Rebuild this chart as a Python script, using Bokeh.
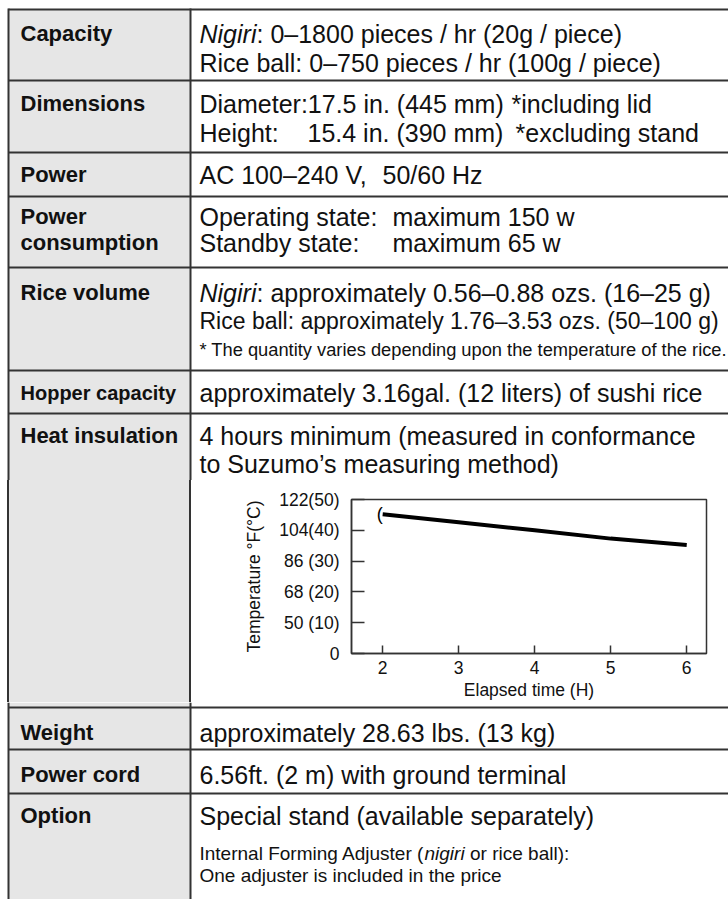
from bokeh.plotting import figure
from bokeh.models import Range1d, FixedTicker, Div
from bokeh.layouts import column, row
from bokeh.embed import file_html
from bokeh.resources import INLINE
from bokeh.core.properties import value

FONT = "Liberation Sans"
GRAY = "#e6e6e6"
LINE = "#333333"
INK = "#111111"

# ---------------- chart data (heat insulation curve) ----------------
hours = [2, 3, 4, 5, 6]
temp_c = [45.2, 42.6, 40.0, 37.3, 35.2]
x_ticks = [2, 3, 4, 5, 6]
y_ticks = [0, 10, 20, 30, 40, 50]
y_tick_labels = ["0", "50 (10)", "68 (20)", "86 (30)", "104(40)", "122(50)"]
x_title = "Elapsed time (H)"
y_title = "Temperature °F(°C)"

# ---------------- table text ----------------
row_labels_top = ["Capacity", "Dimensions", "Power", "Power", "consumption",
                  "Rice volume", "Hopper capacity", "Heat insulation"]
row_labels_bottom = ["Weight", "Power cord", "Option"]

capacity = ["Nigiri", ": 0–1800 pieces / hr (20g / piece)",
            "Rice ball: 0–750 pieces / hr (100g / piece)"]
dimensions = ["Diameter:17.5 in. (445 mm)", "*including lid",
              "Height:", "15.4 in. (390 mm)", "*excluding stand"]
power = ["AC 100–240 V,", "50/60 Hz"]
consumption = ["Operating state:", "maximum 150 w", "Standby state:", "maximum 65 w"]
rice_volume = ["Nigiri", ": approximately 0.56–0.88 ozs. (16–25 g)",
               "Rice ball: approximately 1.76–3.53 ozs. (50–100 g)",
               "* The quantity varies depending upon the temperature of the rice."]
hopper = ["approximately 3.16gal. (12 liters) of sushi rice"]
heat = ["4 hours minimum (measured in conformance", "to Suzumo’s measuring method)"]
weight = ["approximately 28.63 lbs. (13 kg)"]
cord = ["6.56ft. (2 m) with ground terminal"]
option = ["Special stand (available separately)", "Internal Forming Adjuster (",
          "nigiri", "or rice ball):", "One adjuster is included in the price"]

# page layout (pixel positions on the page)
W = 728
COL_X = 190
TOP_Y, BAND_Y0, BAND_Y1, BOT_Y = 0, 480, 702, 899
rules_top = [9, 80, 152, 196, 267, 370, 413]
rules_bottom = [707, 749, 793]
LX, CX = 20, 199
B = "25px"


def table_fig(y0, y1):
    f = figure(width=W, height=y1 - y0,
               x_range=Range1d(0, W), y_range=Range1d(y1, y0),
               x_axis_location=None, y_axis_location=None,
               output_backend="svg", toolbar_location=None, min_border=0)
    f.grid.visible = False
    f.outline_line_color = None
    f.background_fill_color = "white"
    f.border_fill_color = "white"
    f.quad(left=[8], right=[COL_X], top=[max(y0, 9)], bottom=[y1],
           fill_color=GRAY, line_color=None)
    f.segment(x0=[8, COL_X], y0=[max(y0, 8), max(y0, 8)], x1=[8, COL_X], y1=[y1, y1],
              line_color=LINE, line_width=2)
    return f


def strip(w, color):
    return Div(text="", width=w, height=BAND_Y1 - BAND_Y0, margin=0,
               styles={"background-color": color, "padding": "0px", "margin": "0px"})


def txt(f, x, y, s, size=B, style="normal"):
    f.text(x=[x], y=[y], text=[s], text_font=value(FONT), text_font_size=size,
           text_font_style=style, text_baseline="middle", text_align="left",
           text_color=INK)


# ---------------- top part of the table ----------------
top = table_fig(TOP_Y, BAND_Y0)
top.segment(x0=[8] * len(rules_top), y0=rules_top,
            x1=[W] * len(rules_top), y1=rules_top,
            line_color=LINE, line_width=2)
label_y = [33, 103, 174, 216, 242, 292, 392, 435]
for s, y in zip(row_labels_top, label_y):
    txt(top, LX, y, s, "20px" if s == "Hopper capacity" else "22px", "bold")

txt(top, CX, 33, capacity[0], B, "italic")
txt(top, CX + 57, 33, capacity[1])
txt(top, CX, 62, capacity[2])
txt(top, CX, 103, dimensions[0])
txt(top, 511, 103, dimensions[1])
txt(top, CX, 132, dimensions[2])
txt(top, 307, 132, dimensions[3])
txt(top, 515, 132, dimensions[4])
txt(top, CX, 174, power[0])
txt(top, 382, 174, power[1])
txt(top, CX, 216, consumption[0])
txt(top, 392, 216, consumption[1])
txt(top, CX, 242, consumption[2])
txt(top, 392, 242, consumption[3])
txt(top, CX, 292, rice_volume[0], B, "italic")
txt(top, CX + 57, 292, rice_volume[1])
txt(top, CX, 320, rice_volume[2], "23px")
txt(top, CX, 349, rice_volume[3], "18.3px")
txt(top, CX, 392, hopper[0])
txt(top, CX, 435, heat[0])
txt(top, CX, 463, heat[1])

# ---------------- band with the chart ----------------
CH_X0 = 191
ch = figure(width=W - CH_X0, height=BAND_Y1 - BAND_Y0,
            x_range=Range1d(1.59, 6.26), y_range=Range1d(0, 50),
            output_backend="svg", toolbar_location=None,
            min_border_left=351 - CH_X0, min_border_right=W - 706,
            min_border_top=499 - BAND_Y0, min_border_bottom=BAND_Y1 - 653)
ch.grid.visible = False
ch.background_fill_color = "white"
ch.border_fill_color = "white"
ch.outline_line_color = LINE
ch.outline_line_width = 1.5
for ax in (ch.xaxis[0], ch.yaxis[0]):
    ax.axis_line_color = LINE
    ax.axis_line_width = 1.5
    ax.major_tick_line_color = LINE
    ax.major_tick_line_width = 1.5
    ax.major_tick_out = 0
    ax.minor_tick_line_color = None
    ax.axis_label_text_font = FONT
    ax.axis_label_text_font_style = "normal"
    ax.axis_label_text_font_size = "17.5px"
    ax.axis_label_text_color = INK
    ax.major_label_text_font = FONT
    ax.major_label_text_font_size = "17.5px"
    ax.major_label_text_color = INK
ch.xaxis.ticker = FixedTicker(ticks=x_ticks)
ch.xaxis.major_tick_in = 8
ch.xaxis.major_label_standoff = 7
ch.xaxis.axis_label = x_title
ch.xaxis.axis_label_standoff = 3
ch.yaxis.ticker = FixedTicker(ticks=y_ticks)
ch.yaxis.major_label_overrides = {t: s for t, s in zip(y_ticks, y_tick_labels)}
ch.yaxis.major_tick_in = 13
ch.yaxis.major_label_standoff = 12
ch.yaxis.axis_label = y_title
ch.yaxis.axis_label_standoff = 12

ch.line(hours, temp_c, line_width=4, line_color="black")
ch.text(x=hours[:1], y=temp_c[:1], text=["("], x_offset=-3,
        text_font=value(FONT), text_font_size="18px",
        text_align="center", text_baseline="middle", text_color="black")

band = row(strip(7, "white"), strip(2, LINE), strip(180, GRAY), strip(2, LINE), ch,
           spacing=0)

# ---------------- bottom part of the table ----------------
bot = table_fig(BAND_Y1, BOT_Y)
bot.segment(x0=[8] * len(rules_bottom), y0=rules_bottom,
            x1=[W] * len(rules_bottom), y1=rules_bottom,
            line_color=LINE, line_width=2)
for s, y in zip(row_labels_bottom, [732, 774, 815]):
    txt(bot, LX, y, s, "22px", "bold")
txt(bot, CX, 732, weight[0])
txt(bot, CX, 774, cord[0])
txt(bot, CX, 815, option[0])
txt(bot, CX, 853, option[1], "19px")
txt(bot, 424, 853, option[2], "19px", "italic")
txt(bot, 469.5, 853, option[3], "19px")
txt(bot, CX, 875, option[4], "19px")

page = column(top, band, bot, spacing=0)
open("out.html", "w").write(file_html(page, INLINE))
